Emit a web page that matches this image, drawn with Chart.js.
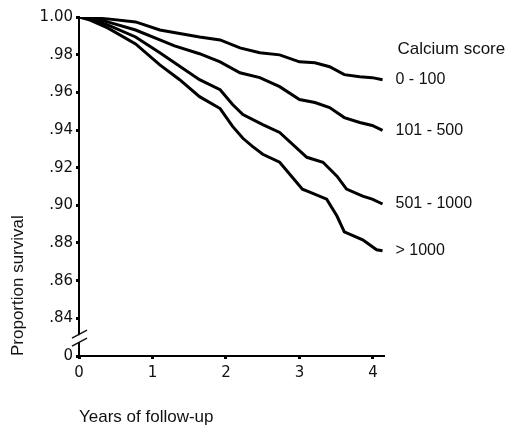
<!DOCTYPE html>
<html>
<head>
<meta charset="utf-8">
<script src="https://cdn.jsdelivr.net/npm/chart.js@4/dist/chart.umd.min.js"></script>
<style>
  html, body { margin: 0; padding: 0; background: #fff; }
  #wrap { position: relative; width: 512px; height: 428px; }
</style>
</head>
<body>
<div id="wrap"><canvas id="km"></canvas></div>
<script>
// ── Data ───────────────────────────────────────────────────────────────
const seriesNames = ['0 - 100', '101 - 500', '501 - 1000', '> 1000'];
const legendTitle = 'Calcium score';

const years0_100 = [0, 0.39, 0.77, 1.10, 1.64, 1.92, 2.19, 2.46, 2.73, 3.00, 3.21, 3.41, 3.61, 3.82, 3.99, 4.13];
const surv0_100  = [1.000, 0.999, 0.9974, 0.9931, 0.9894, 0.9878, 0.9836, 0.981, 0.9799, 0.9762, 0.9757, 0.9736, 0.9694, 0.9683, 0.9678, 0.9667];

const years101_500 = [0, 0.15, 0.39, 0.77, 1.10, 1.30, 1.64, 1.92, 2.19, 2.46, 2.73, 3.00, 3.21, 3.41, 3.61, 3.82, 3.99, 4.13];
const surv101_500  = [1.000, 0.9995, 0.9974, 0.9931, 0.9878, 0.9847, 0.9805, 0.9762, 0.9704, 0.9678, 0.963, 0.9562, 0.9546, 0.9519, 0.9466, 0.944, 0.9424, 0.9398];

const years501_1000 = [0, 0.15, 0.39, 0.77, 1.10, 1.30, 1.64, 1.92, 2.09, 2.23, 2.50, 2.73, 3.10, 3.32, 3.51, 3.64, 3.86, 3.99, 4.13];
const surv501_1000  = [1.000, 0.999, 0.9958, 0.9894, 0.981, 0.9757, 0.9667, 0.9614, 0.9535, 0.9482, 0.9429, 0.9387, 0.9255, 0.9229, 0.9155, 0.9086, 0.9049, 0.9033, 0.9007];

const years1000 = [0, 0.15, 0.39, 0.77, 1.10, 1.37, 1.64, 1.92, 2.09, 2.23, 2.36, 2.50, 2.73, 3.04, 3.14, 3.37, 3.51, 3.61, 3.86, 4.05, 4.13];
const surv1000  = [1.000, 0.9984, 0.9942, 0.9857, 0.9746, 0.9667, 0.9577, 0.9514, 0.9419, 0.9356, 0.9313, 0.9271, 0.9229, 0.9086, 0.907, 0.9033, 0.8943, 0.8859, 0.8817, 0.8764, 0.8759];

// axis ticks ("0" sits at the bottom of the broken axis)
const xTicks = [0, 1, 2, 3, 4];
const yTicks = [0.82, 0.84, 0.86, 0.88, 0.90, 0.92, 0.94, 0.96, 0.98, 1.00];
const yTickLabels = ['0', '.84', '.86', '.88', '.90', '.92', '.94', '.96', '.98', '1.00'];

const FONT = "'Liberation Sans', Arial, sans-serif";
const TICK_FONT = "'DejaVu Sans', sans-serif";

const toPoints = (xs, ys) => xs.map((x, i) => ({ x, y: ys[i] }));
const allSeries = [
  toPoints(years0_100, surv0_100),
  toPoints(years101_500, surv101_500),
  toPoints(years501_1000, surv501_1000),
  toPoints(years1000, surv1000),
];

// ── Plugin: end labels + axis break marks ──────────────────────────────
const decorations = {
  id: 'decorations',
  afterDatasetsDraw(chart) {
    const { ctx, scales: { x, y } } = chart;
    ctx.save();
    ctx.fillStyle = '#111';
    ctx.textAlign = 'left';
    ctx.textBaseline = 'middle';
    chart.data.datasets.forEach((ds, i) => {
      const pts = chart.getDatasetMeta(i).data;
      const last = pts[pts.length - 1];
      ctx.font = `16px ${FONT}`;
      ctx.fillText(ds.label, last.x + 13, last.y);
      if (i === 0) {
        ctx.font = `17px ${FONT}`;
        ctx.fillText(legendTitle, last.x + 15, last.y - 30);
      }
    });

    // broken y axis between "0" and .84
    const bx = x.left;
    const by = y.getPixelForValue(0.8295);
    ctx.fillStyle = '#fff';
    ctx.fillRect(bx - 2, by - 3, 4, 7);
    ctx.strokeStyle = '#111';
    ctx.lineWidth = 1.5;
    [-4, 4].forEach(off => {
      ctx.beginPath();
      ctx.moveTo(bx - 7, by + off + 4);
      ctx.lineTo(bx + 8, by + off - 4);
      ctx.stroke();
    });
    ctx.restore();
  }
};

new Chart(document.getElementById('km'), {
  type: 'line',
  data: {
    datasets: allSeries.map((pts, i) => ({
      label: seriesNames[i],
      data: pts,
      borderColor: '#000',
      borderWidth: 3,
      pointRadius: 0,
      tension: 0,
      fill: false,
    }))
  },
  options: {
    responsive: true,
    maintainAspectRatio: false,
    animation: false,
    layout: { padding: { top: 17, right: 128, left: 0, bottom: 0 } },
    plugins: { legend: { display: false }, tooltip: { enabled: false } },
    scales: {
      x: {
        type: 'linear',
        min: 0,
        max: 4.15,
        afterFit: s => { s.height = 72; },
        afterBuildTicks: s => { s.ticks = xTicks.map(v => ({ value: v })); },
        border: { color: '#000', width: 2 },
        grid: { drawOnChartArea: false, drawTicks: true, tickLength: 3, tickWidth: 3, tickColor: '#000' },
        ticks: { color: '#111', font: { family: TICK_FONT, size: 15 }, padding: 5, maxRotation: 0 },
        title: {
          display: true, text: 'Years of follow-up', align: 'start',
          color: '#111', font: { family: FONT, size: 17 }, padding: { top: 0, bottom: 0 }
        }
      },
      y: {
        min: 0.82,
        max: 1.00,
        afterFit: s => { s.width = 79; },
        afterBuildTicks: s => { s.ticks = yTicks.map(v => ({ value: v })); },
        border: { color: '#000', width: 2 },
        grid: { drawOnChartArea: false, drawTicks: true, tickLength: 3, tickWidth: 3, tickColor: '#000' },
        ticks: {
          color: '#111', font: { family: TICK_FONT, size: 15 }, padding: 3,
          callback: (v, i) => yTickLabels[i]
        },
        title: {
          display: true, text: 'Proportion survival', align: 'start',
          color: '#111', font: { family: FONT, size: 17 }, padding: { top: 8, bottom: 0 }
        }
      }
    }
  },
  plugins: [decorations]
});
</script>
</body>
</html>
